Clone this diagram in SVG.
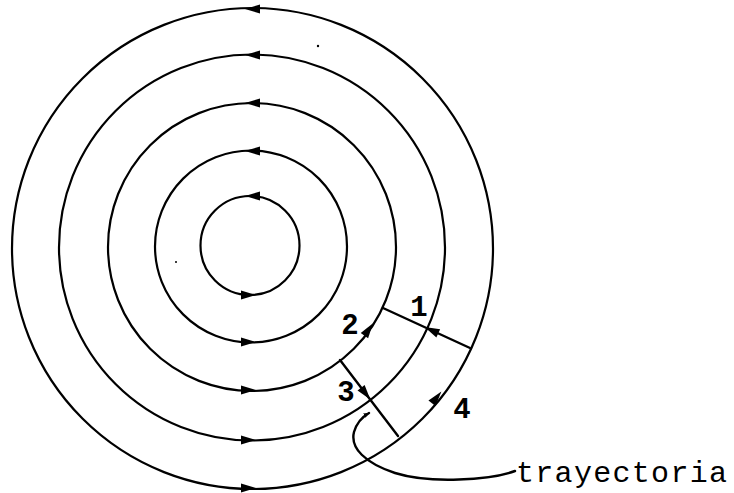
<svg xmlns="http://www.w3.org/2000/svg" width="734" height="493" viewBox="0 0 734 493">
<style>
.c{fill:none;stroke:#000;stroke-width:2.2}
.l{fill:none;stroke:#000;stroke-width:2.4;stroke-linecap:round}
.d{font-family:"Liberation Mono",monospace;font-weight:bold;font-size:29px;fill:#000;text-anchor:middle}
.t{font-family:"Liberation Mono",monospace;font-size:30px;fill:#000;letter-spacing:1.3px}
</style>
<defs>
<path id="ah" d="M-8,-4.5 L7,0 L-8,4.5 Z" fill="#000"/>
<marker id="m" viewBox="0 0 10 10" refX="9" refY="5" markerWidth="6" markerHeight="6" orient="auto" markerUnits="userSpaceOnUse">
<path d="M0,1 L10,5 L0,9 Z" fill="#000"/>
</marker>
</defs>
<rect width="734" height="493" fill="#fff"/>
<g id="circles">
<circle class="c" cx="250" cy="245.5" r="49.5"/>
<circle class="c" cx="251" cy="246.5" r="96"/>
<circle class="c" cx="252" cy="247" r="144"/>
<circle class="c" cx="252" cy="247.5" r="193"/>
<circle class="c" cx="252.5" cy="248.5" r="240.5"/>
</g>
<g id="connectors">
<line class="l" x1="383" y1="308" x2="470" y2="348"/>
<line class="l" x1="340" y1="360" x2="398" y2="436"/>
<path class="l" d="M515,471 C490,480 430,484 395,473 C365,463 350,448 354,432 C357,422 362,417 369,413" marker-end="url(#m)"/>
</g>
<g id="arrows">
<use href="#ah" transform="translate(252,9) rotate(180)"/>
<use href="#ah" transform="translate(252,55) rotate(180)"/>
<use href="#ah" transform="translate(252,103) rotate(180)"/>
<use href="#ah" transform="translate(252,151) rotate(180)"/>
<use href="#ah" transform="translate(252,196) rotate(180)"/>
<use href="#ah" transform="translate(249,295)"/>
<use href="#ah" transform="translate(249,342)"/>
<use href="#ah" transform="translate(249,390)"/>
<use href="#ah" transform="translate(249,440)"/>
<use href="#ah" transform="translate(249,488)"/>
<use href="#ah" transform="translate(369,329) rotate(-55)"/>
<use href="#ah" transform="translate(437,397) rotate(-51)"/>
<use href="#ah" transform="translate(431,330) rotate(205)"/>
<use href="#ah" transform="translate(366,394) rotate(52)"/>
</g>
<g id="labels">
<text class="d" x="419" y="316">1</text>
<text class="d" x="350" y="334">2</text>
<text class="d" x="346" y="401">3</text>
<text class="d" x="462" y="418">4</text>
<text class="t" x="516" y="482">trayectoria</text>
</g>
<circle cx="318" cy="46" r="1.2" fill="#000"/>
<circle cx="176" cy="262" r="1" fill="#000"/>
</svg>
